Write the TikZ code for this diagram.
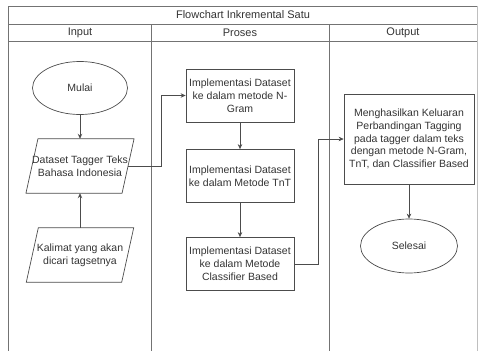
\documentclass[tikz,border=0pt]{standalone}
\usepackage{fontspec}
\setmainfont{Liberation Sans}
\usetikzlibrary{shapes.geometric,arrows.meta}

\begin{document}
\begin{tikzpicture}[x=1pt,y=-1pt,>={Stealth[length=5pt,width=4.5pt]},
  font=\fontsize{10.5}{12.8}\selectfont,text=black!80,
  ln/.style={draw=black!70,line width=0.7pt},
  lane/.style={draw=black!55,line width=1pt},
  nd/.style={ln,rectangle,inner sep=0pt,minimum width=108pt,minimum height=53pt,align=center},
  term/.style={ln,ellipse,inner sep=0pt,minimum width=95pt,minimum height=53pt},
  io/.style={rectangle,inner sep=0pt,minimum width=95pt,minimum height=54pt,align=center},
  hd/.style={font=\fontsize{11}{13}\selectfont,inner sep=0pt}]
  \useasboundingbox (0,0) rectangle (485,351);
  \draw[lane] (8,351) -- (8,6) -- (477,6);
  \draw[lane,draw=black!25] (477,6) -- (477,351);
  \draw[lane] (8,24) -- (477,24);
  \draw[lane] (8,41) -- (477,41);
  \draw[lane] (151,24) -- (151,351);
  \draw[lane] (329,24) -- (329,351);
  \node[hd] (title) at (243,15) {Flowchart Inkremental Satu};
  \node[hd] (hin) at (80,32.5) {Input};
  \node[hd] (hpr) at (240,32.5) {Proses};
  \node[hd] (hout) at (403,32.5) {Output};
  \node[term] (mulai) at (80,88) {Mulai};
  \node[io] (dataset) at (80,166) {Dataset Tagger Teks\\Bahasa Indonesia};
  \node[io] (kalimat) at (80,255) {Kalimat yang akan\\dicari tagsetnya};
  \foreach \n in {dataset,kalimat}
    \draw[ln] ([xshift=6pt]\n.north west) -- ([xshift=6pt]\n.north east)
      -- ([xshift=-6pt]\n.south east) -- ([xshift=-6pt]\n.south west) -- cycle;
  \node[nd] (ngram) at (240,95.5) {Implementasi Dataset\\ke dalam metode N-\\Gram};
  \node[nd] (tnt) at (240,176) {Implementasi Dataset\\ke dalam Metode TnT};
  \node[nd] (cb) at (240,264) {Implementasi Dataset\\ke dalam Metode\\Classifier Based};
  \node[nd,minimum width=130pt,minimum height=90pt] (hasil) at (409,139)
    {Menghasilkan Keluaran\\Perbandingan Tagging\\pada tagger dalam teks\\dengan metode N-Gram,\\TnT, dan Classifier Based};
  \node[term,minimum width=97pt,minimum height=54pt] (selesai) at (409,246) {Selesai};
  \coordinate (j1) at (161,166);
  \coordinate (j2) at (318,264);
  \draw[ln,->] (mulai) -- (dataset);
  \draw[ln,->] (kalimat) -- (dataset);
  \draw[ln,->] (dataset.east) -- (j1) |- (ngram.west);
  \draw[ln,->] (ngram) -- (tnt);
  \draw[ln,->] (tnt) -- (cb);
  \draw[ln,->] (cb.east) -- (j2) |- (hasil.west);
  \draw[ln,->] (hasil) -- (selesai);
\end{tikzpicture}
\end{document}
